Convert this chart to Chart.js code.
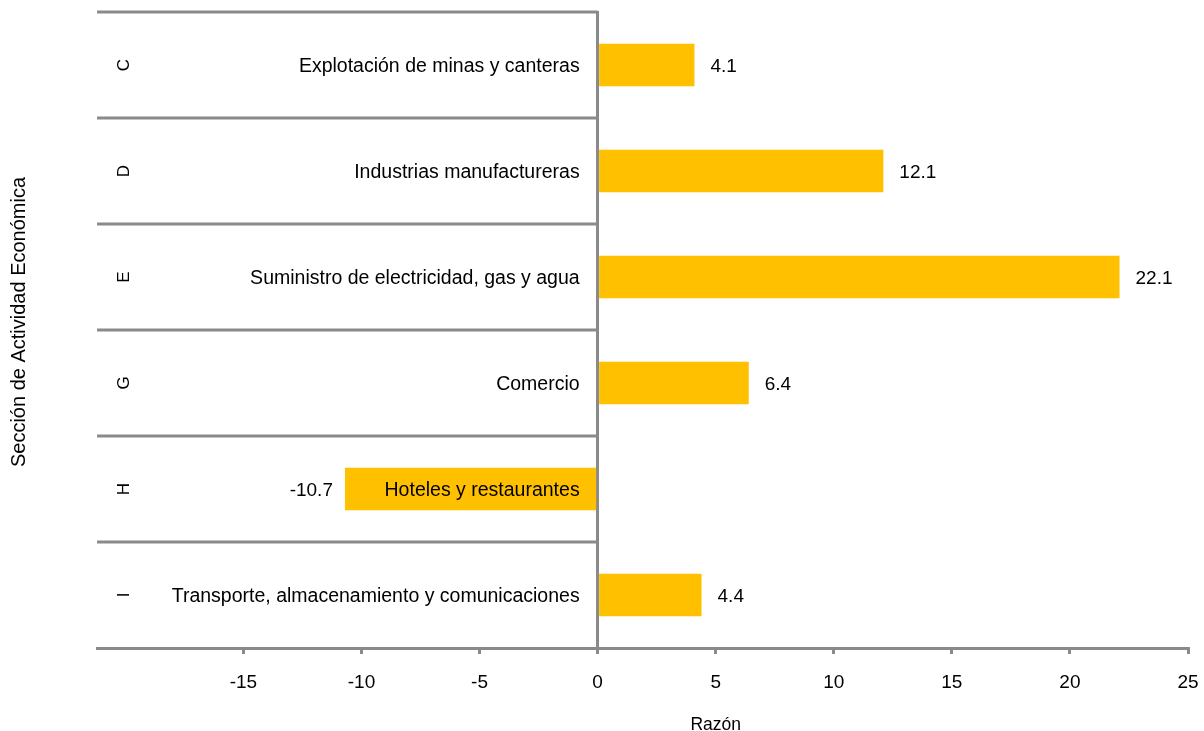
<!DOCTYPE html>
<html>
<head>
<meta charset="utf-8">
<script src="https://cdn.jsdelivr.net/npm/chart.js@4"></script>
<style>
  html, body { margin: 0; padding: 0; background: #ffffff; }
  #wrap { width: 1204px; height: 731px; position: relative; }
</style>
</head>
<body>
<div id="wrap"><canvas id="c" width="1204" height="731"></canvas></div>
<script>
// ---- data ----
const categories = [
  'Explotación de minas y canteras',
  'Industrias manufactureras',
  'Suministro de electricidad, gas y agua',
  'Comercio',
  'Hoteles y restaurantes',
  'Transporte, almacenamiento y comunicaciones'
];
const sectionCodes = ['C', 'D', 'E', 'G', 'H', 'I'];
const values = [4.1, 12.1, 22.1, 6.4, -10.7, 4.4];
const valueLabels = ['4.1', '12.1', '22.1', '6.4', '-10.7', '4.4'];
const xTicks = [-15, -10, -5, 0, 5, 10, 15, 20, 25];
const xMin = -21.2;
const xMax = 25;
const xTitle = 'Razón';
const yTitle = 'Sección de Actividad Económica';

// ---- styles ----
const FONT = "'Liberation Sans', Arial, sans-serif";
const GRAY = '#8a8a8a';
const BAR = '#FFC000';

const overlay = {
  id: 'overlay',
  beforeDatasetsDraw(chart) {
    const ctx = chart.ctx;
    const ys = chart.scales.y, xs = chart.scales.x;
    const area = chart.chartArea;
    const zeroX = xs.getPixelForValue(0);
    const step = ys.getPixelForValue(1) - ys.getPixelForValue(0);
    ctx.save();
    ctx.strokeStyle = GRAY;
    ctx.lineWidth = 3;
    for (let i = 0; i < categories.length; i++) {
      const y = Math.round(ys.getPixelForValue(i) - step / 2);
      ctx.beginPath();
      ctx.moveTo(area.left, y);
      ctx.lineTo(zeroX, y);
      ctx.stroke();
    }
    ctx.restore();
  },
  afterDraw(chart) {
    const ctx = chart.ctx;
    const ys = chart.scales.y, xs = chart.scales.x;
    const area = chart.chartArea;
    const zeroX = xs.getPixelForValue(0);
    ctx.save();
    ctx.fillStyle = '#000000';
    ctx.textBaseline = 'middle';
    // category names, right aligned against the zero axis
    ctx.font = '19.5px ' + FONT;
    ctx.textAlign = 'right';
    categories.forEach((name, i) => {
      ctx.fillText(name, zeroX - 18, ys.getPixelForValue(i) + 2);
    });
    // value labels
    ctx.font = '19px ' + FONT;
    const meta = chart.getDatasetMeta(0);
    meta.data.forEach((bar, i) => {
      if (values[i] >= 0) {
        ctx.textAlign = 'left';
        ctx.fillText(valueLabels[i], bar.x + 16, bar.y + 2);
      } else {
        ctx.textAlign = 'right';
        ctx.fillText(valueLabels[i], bar.x - 12, bar.y + 2);
      }
    });
    // section codes (rotated)
    ctx.font = '17px ' + FONT;
    sectionCodes.forEach((code, i) => {
      const y = ys.getPixelForValue(i);
      ctx.save();
      ctx.translate(area.left + 27, y);
      ctx.rotate(-Math.PI / 2);
      ctx.textAlign = 'center';
      ctx.fillText(code, 0, 0);
      ctx.restore();
    });
    // y title
    ctx.save();
    ctx.translate(19, (area.top + area.bottom) / 2 - 8);
    ctx.rotate(-Math.PI / 2);
    ctx.textAlign = 'center';
    ctx.font = '20px ' + FONT;
    ctx.fillText(yTitle, 0, 0);
    ctx.restore();
    // x title
    ctx.textAlign = 'center';
    ctx.font = '17.5px ' + FONT;
    ctx.fillText(xTitle, xs.getPixelForValue(5), 725);
    ctx.restore();
  }
};

new Chart(document.getElementById('c'), {
  type: 'bar',
  data: {
    labels: categories,
    datasets: [{
      data: values,
      backgroundColor: BAR,
      borderWidth: 0,
      barPercentage: 0.4,
      categoryPercentage: 1.0
    }]
  },
  options: {
    indexAxis: 'y',
    responsive: false,
    animation: false,
    devicePixelRatio: 1,
    layout: { padding: { left: 97, top: 12, right: 16, bottom: 0 } },
    plugins: { legend: { display: false }, tooltip: { enabled: false } },
    scales: {
      x: {
        type: 'linear',
        min: xMin,
        max: xMax,
        afterBuildTicks(scale) { scale.ticks = xTicks.map(v => ({ value: v })); },
        afterFit(scale) { scale.height = 83; scale.paddingLeft = 0; scale.paddingRight = 0; },
        grid: { display: true, drawOnChartArea: false, drawTicks: true, tickLength: 6, color: GRAY, lineWidth: 3 },
        border: { display: true, color: GRAY, width: 3 },
        ticks: { color: '#000', font: { family: FONT, size: 19 }, padding: 17, maxRotation: 0, autoSkip: false }
      },
      y: {
        type: 'category',
        position: { x: 0 },
        grid: { display: false, drawTicks: false },
        border: { display: true, color: GRAY, width: 3 },
        ticks: { display: false, padding: 0 },
        afterFit(scale) { scale.paddingTop = 0; scale.paddingBottom = 0; }
      }
    }
  },
  plugins: [overlay]
});
</script>
</body>
</html>
